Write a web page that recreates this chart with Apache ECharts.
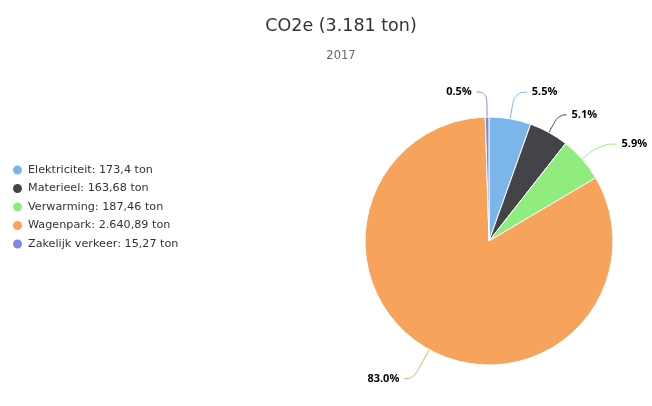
<!DOCTYPE html>
<html><head><meta charset="utf-8">
<script src="https://cdn.jsdelivr.net/npm/echarts@6/dist/echarts.min.js"></script>
<style>html,body{margin:0;padding:0;background:#fff}#c{width:652px;height:406px}</style>
</head><body><div id="c"></div>
<script>
var categories = ['Elektriciteit', 'Materieel', 'Verwarming', 'Wagenpark', 'Zakelijk verkeer'];
var values = [173.4, 163.68, 187.46, 2640.89, 15.27];
var colors = ['#7cb5ec', '#434348', '#90ed7d', '#f7a35c', '#8085e9'];
var titleText = 'CO2e (3.181 ton)';
var subtitleText = '2017';
// connector sizes per slice (style)
var lineLen = [27, 20, 23, 33, 25];
var lineLen2 = [12, 8, 17, 9, 10];

function nl(v) {
  var parts = String(v).split('.');
  var intPart = parts[0].replace(/\B(?=(\d{3})+(?!\d))/g, '.');
  return parts.length > 1 ? intPart + ',' + parts[1] : intPart;
}
var total = values.reduce(function (a, b) { return a + b; }, 0);
var font = '"DejaVu Sans", Verdana, sans-serif';

var chart = echarts.init(document.getElementById('c'));
chart.setOption({
  animation: false,
  title: [{
    text: titleText, left: 336, textAlign: 'center', top: 12,
    textStyle: { fontFamily: font, fontSize: 17.5, fontWeight: 'normal', color: '#333' }
  }, {
    text: subtitleText, left: 336, textAlign: 'center', top: 45,
    textStyle: { fontFamily: font, fontSize: 11.5, fontWeight: 'normal', color: '#666' }
  }],
  legend: {
    orient: 'vertical', left: 6, top: 158, icon: 'circle', itemWidth: 11, itemHeight: 11, itemGap: 4.5,
    textStyle: { fontFamily: font, fontSize: 11.2, color: '#333', lineHeight: 14 },
    formatter: function (name) {
      var i = categories.indexOf(name);
      return name + ': ' + nl(values[i]) + ' ton';
    },
    data: categories
  },
  series: [{
    type: 'pie',
    center: [489, 241], radius: 124,
    startAngle: 90, clockwise: true,
    avoidLabelOverlap: false,
    itemStyle: { borderColor: '#fff', borderWidth: 1 },
    label: {
      show: true, overflow: 'none', fontFamily: '"Open Sans", "Noto Sans", sans-serif', fontSize: 11, fontWeight: 'bold', color: '#000',
      formatter: function (p) { return (p.value / total * 100).toFixed(1) + '%'; }
    },
    labelLine: { show: true, smooth: 0.5, lineStyle: { width: 1 } },
    emphasis: { disabled: true },
    data: categories.map(function (c, i) {
      return { name: c, value: values[i], itemStyle: { color: colors[i] },
        labelLine: { length: lineLen[i], length2: lineLen2[i] } };
    })
  }]
});
</script></body></html>
